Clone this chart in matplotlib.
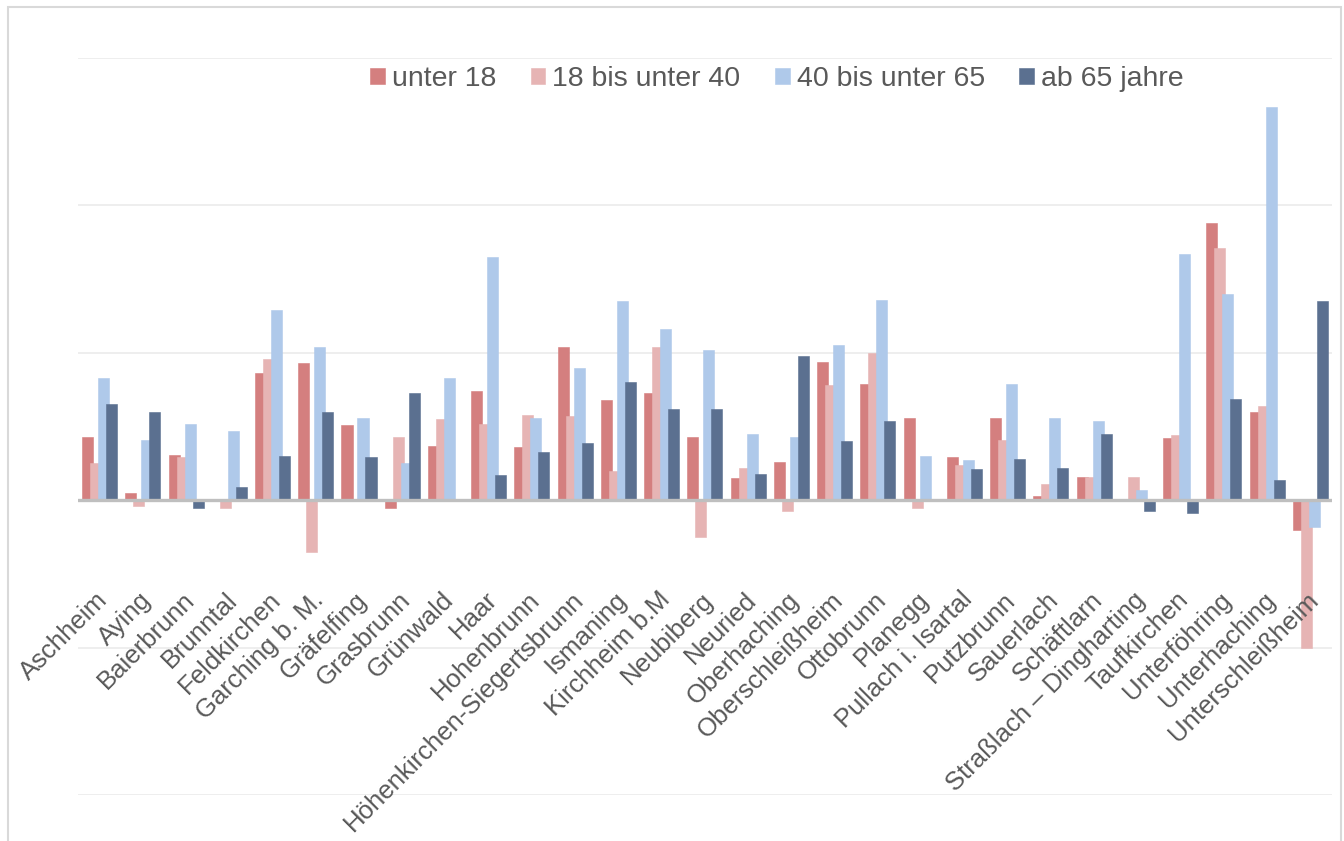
import matplotlib
matplotlib.use("Agg")
import matplotlib.pyplot as plt
import numpy as np
from matplotlib.patches import Rectangle

plt.rcParams['font.family'] = ['Liberation Sans', 'DejaVu Sans']

gemeinden = ['Aschheim', 'Aying', 'Baierbrunn', 'Brunntal', 'Feldkirchen',
             'Garching b. M.', 'Gräfelfing', 'Grasbrunn', 'Grünwald', 'Haar',
             'Hohenbrunn', 'Höhenkirchen-Siegertsbrunn', 'Ismaning',
             'Kirchheim b.M', 'Neubiberg', 'Neuried', 'Oberhaching',
             'Oberschleißheim', 'Ottobrunn', 'Planegg', 'Pullach i. Isartal',
             'Putzbrunn', 'Sauerlach', 'Schäftlarn', 'Straßlach – Dingharting',
             'Taufkirchen', 'Unterföhring', 'Unterhaching', 'Unterschleißheim']

unter_18 = [0.43, 0.05, 0.31, 0.00, 0.86, 0.93, 0.51, -0.05, 0.37, 0.74,
            0.36, 1.04, 0.68, 0.73, 0.43, 0.15, 0.26, 0.94, 0.79, 0.56,
            0.29, 0.56, 0.03, 0.16, 0.00, 0.42, 1.88, 0.60, -0.20]
u18_40 = [0.25, -0.04, 0.29, -0.05, 0.96, -0.35, 0.00, 0.43, 0.55, 0.52,
          0.58, 0.57, 0.20, 1.04, -0.25, 0.22, -0.07, 0.78, 1.00, -0.05,
          0.24, 0.41, 0.11, 0.16, 0.16, 0.44, 1.71, 0.64, -1.00]
u40_65 = [0.83, 0.41, 0.52, 0.47, 1.29, 1.04, 0.56, 0.25, 0.83, 1.65,
          0.56, 0.90, 1.35, 1.16, 1.02, 0.45, 0.43, 1.05, 1.36, 0.30,
          0.27, 0.79, 0.56, 0.54, 0.07, 1.67, 1.40, 2.67, -0.18]
ab_65 = [0.65, 0.60, -0.05, 0.09, 0.30, 0.60, 0.29, 0.73, 0.00, 0.17,
         0.33, 0.39, 0.80, 0.62, 0.62, 0.18, 0.98, 0.40, 0.54, 0.01,
         0.21, 0.28, 0.22, 0.45, -0.07, -0.09, 0.69, 0.14, 1.35]

labels = ['unter 18', '18 bis unter 40', '40 bis unter 65', 'ab 65 jahre']
colors = ['#D47F7F', '#E6B4B4', '#AFC9EA', '#5B7090']

fig = plt.figure(figsize=(13.44, 8.41), dpi=100)
ax = fig.add_axes([0.058, 0.0547, 0.933, 0.8763])

x = np.arange(len(gemeinden))
width = 0.255
offsets = [-0.2775, -0.0925, 0.0925, 0.2775]
for vals, off, col, lab in zip([unter_18, u18_40, u40_65, ab_65], offsets, colors, labels):
    ax.bar(x + off, vals, width=width, color=col, label=lab, zorder=2,
           edgecolor=col, linewidth=0.4)

ax.set_xlim(-0.5, len(gemeinden) - 0.5)
ax.set_ylim(-2, 3)
ax.set_yticks(np.arange(-2, 4, 1))
ax.yaxis.grid(True, color='#EBEBEB', linewidth=1.2, zorder=0)
ax.set_axisbelow(True)
ax.axhline(0, color='#BFBFBF', linewidth=2.4, zorder=3)
ax.tick_params(left=False, bottom=False, labelleft=False, labelbottom=False)
for s in ax.spines.values():
    s.set_visible(False)

# category names, rotated and hanging below the zero line
for i, name in enumerate(gemeinden):
    ax.text(i + 0.1, -0.65, name, rotation=45, ha='right', va='center',
            rotation_mode='anchor', fontsize=18.5, color='#595959')

fig.legend(loc='center', bbox_to_anchor=(0.578, 0.906), ncol=4, frameon=False,
           fontsize=20.5, labelcolor='#595959', handlelength=0.52, handleheight=0.52,
           handletextpad=0.25, columnspacing=1.2)

fig.patches.append(Rectangle((8 / 1344, -0.02), 1333 / 1344, 1.02 - 7 / 841,
                             transform=fig.transFigure, fill=False,
                             edgecolor='#D9D9D9', linewidth=1.5))

fig.savefig('out.png', dpi=100)
